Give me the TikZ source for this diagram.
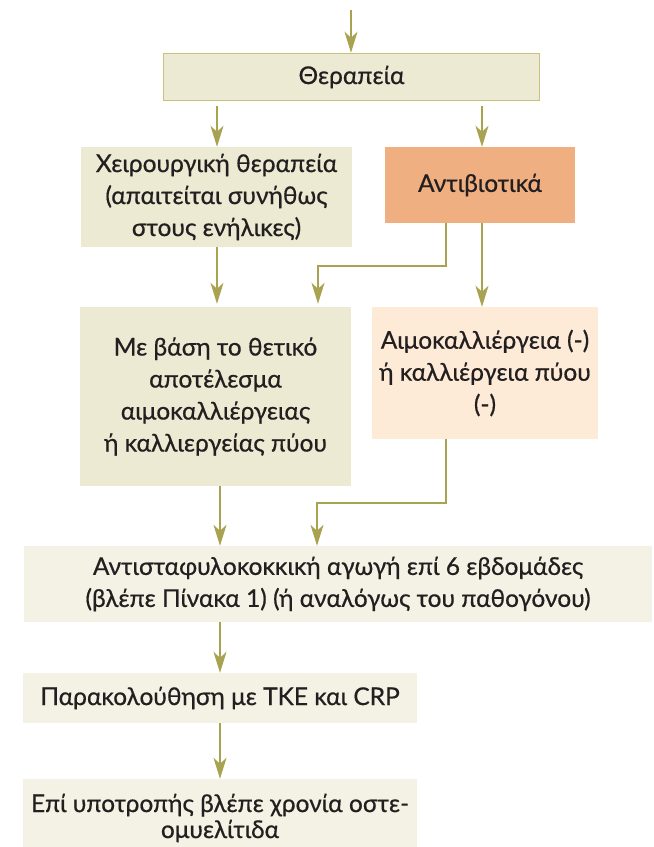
\documentclass[tikz,border=0pt]{standalone}
\usepackage{fontspec}
\setmainfont{Lato}[FakeBold=0.6]
\usetikzlibrary{arrows.meta}
\definecolor{olv}{HTML}{A9A351}
\definecolor{boxA}{HTML}{ECEAD2}
\definecolor{boxO}{HTML}{F0AF80}
\definecolor{boxP}{HTML}{FDEBD7}
\definecolor{boxL}{HTML}{F4F2E4}
\definecolor{bord}{HTML}{C8C27E}
\definecolor{txt}{HTML}{231F20}
\begin{document}
\begin{tikzpicture}[x=1pt,y=-1pt,
  font=\fontsize{24.5}{32}\selectfont,
  box/.style={inner sep=0pt, align=center, text=txt},
  arr/.style={draw=olv, line width=1.2pt, -{Stealth[length=21pt,width=13pt,inset=6pt]}}]
\useasboundingbox (0,0) rectangle (654,847);
\clip (0,0) rectangle (654,847);
\fill[white] (0,0) rectangle (654,847);

\node[box, fill=boxA, draw=bord, line width=1.5pt, minimum width=376pt, minimum height=47pt] (ther) at (351.5,77) {Θεραπεία};
\node[box, fill=boxA, minimum width=271pt, minimum height=100pt] (chir) at (216.5,197) {Χειρουργική θεραπεία\\(απαιτείται συνήθως\\στους ενήλικες)};
\node[box, fill=boxO, minimum width=190pt, minimum height=76pt] (anti) at (480,185) {Αντιβιοτικά};
\node[box, fill=boxA, minimum width=271pt, minimum height=179pt] (meb) at (215.5,396.5) {Με βάση το θετικό\\αποτέλεσμα\\αιμοκαλλιέργειας\\ή καλλιεργείας πύου};
\node[box, fill=boxP, minimum width=226pt, minimum height=132pt] (aim) at (485,373) {Αιμοκαλλιέργεια (-)\\ή καλλιέργεια πύου\\(-)};
\node[box, fill=boxL, minimum width=628pt, minimum height=76pt] (ast) at (338,584) {Αντισταφυλοκοκκική αγωγή επί 6 εβδομάδες\\(βλέπε Πίνακα 1) (ή αναλόγως του παθογόνου)};
\node[box, fill=boxL, minimum width=394pt, minimum height=50pt] (par) at (220,698) {Παρακολούθηση με ΤΚΕ και CRP};
\node[box, fill=boxL, minimum width=394pt, minimum height=78pt, font=\fontsize{24.5}{26}\selectfont] (epi) at (220,818) {Επί υποτροπής βλέπε χρονία οστε-\\ομυελίτιδα};

\coordinate (top) at (351,10);
\coordinate (xl) at (217,0);
\coordinate (xr) at (482,0);
\coordinate (xm) at (220,0);
\coordinate (xe) at (446,0);
\coordinate (e1) at (318,266);
\coordinate (e2) at (317,503);

\draw[arr] (top) -- (top |- ther.north);
\draw[arr] ([yshift=-5pt]ther.south -| xl) -- (xl |- chir.north);
\draw[arr] ([yshift=-5pt]ther.south -| xr) -- (xr |- anti.north);
\draw[arr] (xl |- chir.south) -- ([yshift=3pt]xl |- meb.north);
\draw[arr] (xe |- anti.south) |- (e1) -- ([yshift=3pt]e1 |- meb.north);
\draw[arr] (xr |- anti.south) -- (xr |- aim.north);
\draw[arr] (xm |- meb.south) -- (xm |- ast.north);
\draw[arr] (xe |- aim.south) |- (e2) -- (e2 |- ast.north);
\draw[arr] (xm |- ast.south) -- (xm |- par.north);
\draw[arr] (xm |- par.south) -- (xm |- epi.north);
\end{tikzpicture}
\end{document}
